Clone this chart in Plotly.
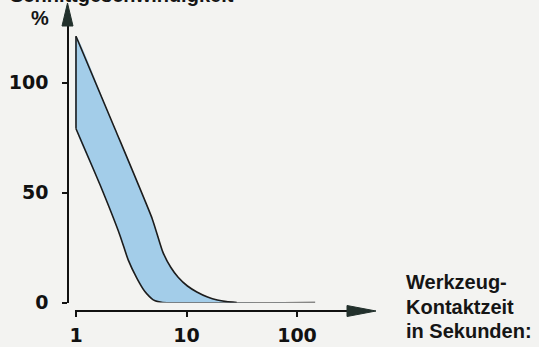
import plotly.graph_objects as go

# ---- data ----
upper_x = [1, 2.25, 4.9, 6.1, 7.2, 8.4, 10.2, 12.4, 15.5, 19, 23, 28.5]
upper_y = [121, 79, 38, 23, 16, 11.5, 7.5, 4.8, 2.5, 1.1, 0.4, 0]
lower_x = [1, 1.65, 2.5, 2.96, 3.56, 4.2, 4.6, 5.0, 5.5, 6.1, 146]
lower_y = [79, 53.5, 30.5, 19.5, 11, 5, 2.8, 1.2, 0.4, 0, 0]

x_ticks = [1, 10, 100]
x_tick_text = ["1", "10", "100"]
y_ticks = [0, 50, 100]
y_tick_text = ["0", "50", "100"]

y_unit = "%"
title_text = "Schnittgeschwindigkeit"
x_label_lines = ["Werkzeug-", "Kontaktzeit", "in Sekunden:"]

# ---- figure ----
W, H = 539, 347
def px(x):
    return x / W
def py(y):
    return (H - y) / H

LINE = dict(color="#1c1c1c", width=1.6)

poly_x = upper_x + lower_x[::-1] + [upper_x[0]]
poly_y = upper_y + lower_y[::-1] + [upper_y[0]]

fig = go.Figure()
# filled band
fig.add_trace(go.Scatter(
    x=poly_x, y=poly_y, mode="lines", fill="toself",
    fillcolor="#a3cde9", line=dict(width=0, shape="spline", smoothing=0.5),
    hoverinfo="skip", showlegend=False))
# outlines
fig.add_trace(go.Scatter(x=upper_x, y=upper_y, mode="lines",
                         line=dict(shape="spline", smoothing=0.5, **LINE),
                         hoverinfo="skip", showlegend=False))
fig.add_trace(go.Scatter(x=lower_x, y=lower_y, mode="lines",
                         line=dict(shape="spline", smoothing=0.5, **LINE),
                         hoverinfo="skip", showlegend=False))
fig.add_trace(go.Scatter(x=[upper_x[0], lower_x[0]], y=[upper_y[0], lower_y[0]],
                         mode="lines", line=LINE,
                         hoverinfo="skip", showlegend=False))

tick_font = dict(family="DejaVu Sans", size=19, color="#111111", weight=700)

fig.update_layout(
    width=W, height=H, autosize=False,
    margin=dict(l=0, r=0, t=0, b=0, pad=0, autoexpand=False),
    paper_bgcolor="#f3f3f1", plot_bgcolor="rgba(0,0,0,0)",
    showlegend=False,
    xaxis=dict(
        type="log", domain=[px(75), px(350)],
        range=[(75 - 76) / 110.5, (350 - 76) / 110.5],
        anchor="free", position=py(311), automargin=False,
        showline=True, linecolor="#111111", linewidth=2,
        ticks="outside", ticklen=5, tickwidth=1.5, tickcolor="#111111",
        tickvals=x_ticks, ticktext=x_tick_text, tickfont=tick_font,
        showgrid=False, zeroline=False, ticklabelstandoff=2,
    ),
    yaxis=dict(
        domain=[py(302.5), py(20)],
        range=[0, (302.5 - 20) / 2.2],
        anchor="free", position=px(68), automargin=False,
        showline=True, linecolor="#111111", linewidth=1.6,
        ticks="outside", ticklen=5, tickwidth=1.5, tickcolor="#111111",
        tickvals=y_ticks, ticktext=y_tick_text, tickfont=tick_font,
        showgrid=False, zeroline=False, ticklabelstandoff=10,
    ),
)

# arrow heads
fig.add_shape(type="path", xref="paper", yref="paper",
              path=f"M {px(67.5)} {py(3)} L {px(62)} {py(26)} L {px(73)} {py(26)} Z",
              fillcolor="#22302c", line=dict(color="#22302c", width=1))
fig.add_shape(type="path", xref="paper", yref="paper",
              path=f"M {px(376)} {py(311)} L {px(347)} {py(305.5)} L {px(347)} {py(316.5)} Z",
              fillcolor="#22302c", line=dict(color="#22302c", width=1))

label_font = dict(family="Liberation Sans", size=20, color="#151515", weight=700)

fig.add_annotation(text=y_unit, xref="paper", yref="paper", x=px(40), y=py(18),
                   xanchor="center", yanchor="middle", showarrow=False,
                   font=dict(family="Liberation Sans", size=20, color="#151515", weight=700))
fig.add_annotation(text=title_text, xref="paper", yref="paper", x=px(8), y=py(-5),
                   xanchor="left", yanchor="middle", showarrow=False,
                   font=label_font)
for i, line in enumerate(x_label_lines):
    fig.add_annotation(text=line, xref="paper", yref="paper",
                       x=px(404), y=py(282 + 24.5 * i),
                       xanchor="left", yanchor="middle", showarrow=False,
                       font=label_font)

fig.write_html("out.html", config={"displayModeBar": False},
               post_script="document.body.style.margin='0';")
